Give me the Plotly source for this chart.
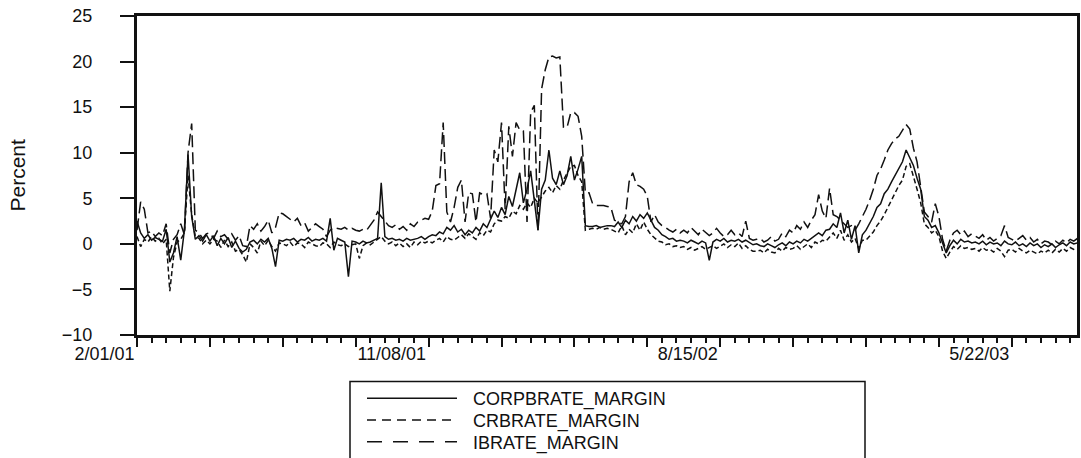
import pandas as pd
import plotly.graph_objects as go

# Twice-weekly observations starting 1 February 2001
start_date = "2001-02-01"
n_obs = 259
obs_dates = pd.date_range(start_date, periods=n_obs, freq="84h")

corpbrate_margin = [
    2.5, 1.2, 0.6, 1.0, 0.4, 0.7, 0.5, 0.3, 1.6, -2.0,
    -1.0, 0.8, -1.8, 1.5, 9.8, 3.0, 0.5, 0.9, 0.3, 1.0,
    0.3, 0.9, -0.2, 0.6, 0.0, 0.7, -0.4, 0.3, -0.5, -0.9,
    -0.6, 0.2, 0.4, 0.0, 0.5, 0.2, 0.6, -0.5, -2.5, 0.4,
    0.3, 0.5, 0.4, 0.6, 0.2, 0.5, 0.4, 0.7, 0.3, 0.5,
    0.4, 0.6, 0.3, 2.8, -0.7, 0.6, 0.4, 0.2, -3.6, 0.3,
    0.2, 0.0, 0.3, 0.1, 0.2, 0.4, 0.6, 6.7, 0.8, 0.5,
    0.6, 0.4, 0.5, 0.3, 0.6, 0.4, 0.5, 0.6, 0.8, 0.5,
    0.8, 1.0, 0.9, 1.3, 1.1, 1.8, 1.5, 2.0, 1.3, 1.6,
    1.0, 1.5, 1.2, 1.8, 1.4, 2.2, 1.8, 2.8, 3.6, 2.9,
    4.0, 3.2, 5.2, 4.1, 5.8, 7.8, 4.5, 6.0, 8.0, 5.0,
    1.5, 6.0, 7.0, 10.3, 7.2, 6.5, 8.0, 6.5, 7.5, 9.6,
    7.0, 8.2, 9.6, 2.0, 1.9, 1.9, 2.0, 1.8, 1.9, 2.0,
    2.0, 1.9, 2.4, 1.8, 2.6, 2.2, 3.0, 2.5, 3.2, 2.8,
    3.4, 2.6, 1.8, 1.5, 1.0, 0.8, 0.5, 0.6, 0.3, 0.4,
    0.3, 0.1, 0.4, 0.2, 0.0, 0.3, 0.1, -1.8, 0.2, 0.5,
    0.3, 0.6, 0.2, 0.4, 0.3, 0.5, 0.2, 0.4, 0.1, -0.1,
    0.0, -0.2, -0.3, 0.0, -0.2, -0.4, -0.1, 0.1, -0.2, 0.2,
    0.0, 0.3, 0.1, 0.5, 0.3, 0.6, 0.8, 1.2, 0.9, 1.5,
    1.6, 2.2, 1.8, 3.4, 1.2, 2.6, 0.5, 2.0, -1.0, 1.0,
    1.5, 2.2, 3.0, 4.0, 4.4, 5.5, 6.0, 6.8, 7.5, 8.2,
    9.0, 10.3, 9.5, 8.6, 7.2, 6.0, 3.0, 2.6, 1.8, 2.0,
    1.2, 0.0, -1.0, -0.2, 0.4, 0.0, 0.5, 0.2, 0.3, 0.1,
    0.2, 0.0, 0.3, -0.1, 0.2, 0.0, 0.1, -0.2, 0.3, 0.0,
    -0.1, 0.2, -0.2, 0.0, -0.3, 0.1, -0.2, 0.0, -0.4, -0.1,
    -0.3, 0.0, -0.4, -0.1, 0.1, -0.2, 0.2, 0.0, 0.1,
]

crbrate_margin = [
    0.8, -0.3, 0.5, 0.2, 0.8, 0.3, 0.6, 0.0, 0.5, -5.2,
    -1.5, 0.2, 0.5, 1.2, 7.5, 3.2, 0.8, 0.6, 0.0, 0.4,
    0.0, 0.5, 0.3, -0.4, 0.4, -0.3, 0.2, -0.8, -0.6, -1.2,
    -2.0, 0.0, -0.4, -1.0, 0.3, -0.2, 0.4, -0.3, -0.8, 0.1,
    0.0, -0.2, 0.2, -0.3, 0.1, 0.0, -0.4, 0.2, 0.0, -0.2,
    -0.3, 0.1, 0.0, -0.4, 0.2, -0.1, -0.2, 0.0, -0.3, -0.1,
    0.0, -1.6, -0.2, 0.1, -0.1, 0.2, 0.4, 0.8, 0.3, 0.0,
    0.2, -0.2, 0.1, -0.3, 0.0, -0.4, 0.2, -0.1, 0.3, 0.1,
    0.3, 0.1, 0.4, 0.6, 0.2, 0.8, 0.5, 0.4, 0.7, 1.0,
    0.6, 1.1, 0.8, 0.5, 1.2, 0.9, 1.5, 1.3, 2.2, 2.6,
    2.5, 3.0, 2.8, 3.6, 3.3, 4.2, 3.8, 4.5, 4.0, 5.0,
    4.5, 5.2, 5.8, 6.2, 5.6, 6.4, 6.0, 7.0, 7.8, 8.5,
    8.6, 7.5, 6.8, 1.5, 1.6, 1.7, 1.6, 1.8, 1.6, 1.7,
    1.6, 1.4, 1.2, 2.0, 1.0, 1.6, 1.2, 2.2, 1.5, 2.4,
    1.6, 1.0, 0.6, 0.3, 0.2, -0.1, 0.0, -0.3, -0.2, -0.4,
    -0.3, -0.6, -0.4, -0.7, -0.5, -0.3, -0.6, -0.4, -0.2, -0.5,
    -0.2, 0.0, -0.4, -0.1, -0.3, 0.1, -0.5, -0.2, -0.6, -0.8,
    -0.8, -0.7, -1.0, -0.6, -0.9, -1.0, -0.5, -0.8, -0.4, -0.6,
    -0.5, -0.2, -0.6, -0.3, 0.0, -0.4, 0.2, 0.0, 0.4, 0.3,
    0.8, 1.2, 0.6, 1.5, 0.4, 1.0, 0.2, 0.6, -0.5, 0.4,
    0.4, 0.8, 1.3, 2.0, 2.5, 3.2, 4.0, 4.8, 5.5, 6.4,
    7.0, 8.5, 8.8, 7.5, 6.0, 4.5, 2.2, 1.8, 1.2, 1.5,
    0.8, -0.8, -1.6, -0.9, -0.3, -0.6, -0.2, -0.5, -0.4, -0.6,
    -0.5, -0.8, -0.4, -0.7, -0.6, -0.9, -0.5, -0.8, -1.4, -0.7,
    -0.6, -0.9, -0.5, -0.8, -1.0, -0.7, -0.9, -1.1, -0.8, -1.0,
    -0.7, -1.0, -0.6, -0.9, -0.5, -0.8, -0.4, -0.6, -0.5,
]

ibrate_margin = [
    1.5, 4.6, 3.8, 1.2, 1.4, 0.8, 1.2, 0.9, 2.2, -1.0,
    0.5, 1.0, 2.2, 1.0, 10.0, 13.2, 1.5, 1.2, 0.6, 1.1,
    1.2, 0.6, 1.4, 0.8, 1.0, 0.5, 1.1, 0.4, 0.9, -0.2,
    -0.3, 2.0, 1.6, 2.2, 1.4, 1.9, 2.6, 1.2, 1.8, 3.4,
    3.3, 3.0, 2.8, 2.4, 2.8, 2.0, 2.3, 1.4, 1.8, 2.2,
    1.9, 1.6, 0.8, 1.5, 1.8, 1.7, 1.6, 1.8, 1.5, 1.7,
    1.5, 1.4, 1.6, 1.5, 2.0, 2.6, 3.5, 3.0, 2.4, 2.0,
    1.8, 2.1, 1.6, 1.9, 1.5, 2.2, 1.9, 2.4, 2.6, 2.8,
    2.7, 3.6, 6.4, 6.6, 13.3, 3.5, 2.4, 4.0, 6.2, 7.0,
    2.4, 5.6, 5.5, 2.4, 5.6, 5.4, 5.5, 2.8, 10.3, 9.0,
    13.3, 3.8, 12.9, 9.6, 13.3, 12.5, 12.4, 2.4, 14.4, 15.2,
    1.5, 17.0, 19.1, 20.5, 20.6, 20.4, 20.5, 12.8, 12.8, 14.4,
    14.4, 14.0, 11.8, 5.6, 5.6, 4.4, 4.2, 4.2, 4.2, 4.1,
    4.0, 2.6, 2.4, 2.2, 3.0, 6.8, 7.8, 6.5, 6.3, 6.0,
    5.2, 2.4, 3.2, 2.4, 2.0, 1.8, 1.5, 1.3, 1.6, 1.2,
    1.5, 1.2, 1.8, 1.4, 1.0, 1.6, 1.3, 0.9, 1.2, 1.7,
    1.2, 0.8, 1.0, 1.5, 1.0, 1.2, 0.8, 2.5, 0.6, 0.4,
    0.5, 0.6, 0.2, 0.4, 0.8, 0.3, 0.5, 1.2, 0.8, 1.5,
    1.2, 2.0, 1.6, 2.4, 1.8, 2.6, 3.2, 5.4, 3.6, 2.8,
    6.1, 3.2, 3.0, 2.6, 2.2, 1.8, 2.0, 1.5, 2.2, 3.0,
    3.8, 4.8, 6.0, 7.5, 8.2, 9.2, 10.3, 11.0, 11.5, 11.8,
    12.4, 13.1, 12.6, 10.5, 9.0, 6.5, 3.5, 3.0, 2.4, 4.4,
    3.0, 0.5, -0.8, 0.4, 1.2, 1.5, 1.0, 1.4, 0.8, 1.1,
    0.8, 0.6, 1.0, 0.4, 0.7, 0.3, 0.6, 0.9, 2.0, 0.7,
    0.5, 0.3, 0.6, 0.9, 0.4, 0.7, 0.2, 0.5, 0.0, 0.3,
    0.2, -0.1, 0.3, 0.0, 0.4, 0.1, 0.5, 0.3, 0.6,
]

series_names = ["CORPBRATE_MARGIN", "CRBRATE_MARGIN", "IBRATE_MARGIN"]

# Axis ticks: a major tick every 10 weeks, labelled every 40 weeks
major_tick_dates = pd.date_range(start_date, periods=13, freq="70D")
major_tick_text = ["2/01/01", "", "", "", "11/08/01", "", "", "",
                   "8/15/02", "", "", "", "5/22/03"]
x_end = "2003-07-23 14:00"
y_ticks = [-10, -5, 0, 5, 10, 15, 20, 25]

FONT = "Liberation Sans, Arial, sans-serif"
INK = "#111111"

# plot area in pixels (fixed margins)
W, H = 1081, 458
L, R, T, B = 137, 4, 16, 123
PW, PH = W - L - R, H - T - B


def px_x(px):
    return (px - L) / PW


def px_y(py):
    return (H - B - py) / PH


line_dash = {"CORPBRATE_MARGIN": "solid",
             "CRBRATE_MARGIN": "5px,3px",
             "IBRATE_MARGIN": "12px,5px"}
key_dash = {"CORPBRATE_MARGIN": "solid",
            "CRBRATE_MARGIN": "9px,6px",
            "IBRATE_MARGIN": "15px,11px"}
series_values = {"CORPBRATE_MARGIN": corpbrate_margin,
                 "CRBRATE_MARGIN": crbrate_margin,
                 "IBRATE_MARGIN": ibrate_margin}

fig = go.Figure()
# dashed series underneath, solid series on top
for name in reversed(series_names):
    fig.add_trace(go.Scatter(
        x=obs_dates, y=series_values[name], mode="lines", name=name,
        line=dict(color=INK, width=1.5, dash=line_dash[name]),
        showlegend=False,
    ))

# key box below the chart with a line sample and a label per series
shapes = [dict(
    type="rect", xref="paper", yref="paper",
    x0=px_x(350), x1=px_x(865), y0=px_y(381.5), y1=px_y(520),
    line=dict(color=INK, width=1.5), fillcolor="rgba(0,0,0,0)",
)]
annotations = [dict(
    text="Percent", textangle=-90, xref="paper", yref="paper",
    x=px_x(17), y=0.5, xanchor="center", yanchor="middle",
    showarrow=False, font=dict(size=21, color=INK),
)]
for k, name in enumerate(series_names):
    row_y = 398.3 + 21.7 * k
    shapes.append(dict(
        type="line", xref="paper", yref="paper",
        x0=px_x(367), x1=px_x(457), y0=px_y(row_y), y1=px_y(row_y),
        line=dict(color=INK, width=1.5, dash=key_dash[name]),
    ))
    annotations.append(dict(
        text=name, xref="paper", yref="paper",
        x=px_x(471), y=px_y(row_y + 1.5), xanchor="left", yanchor="middle",
        showarrow=False, font=dict(size=18, color=INK),
    ))

fig.update_layout(
    width=W, height=H,
    margin=dict(l=L, r=R, t=T, b=B, autoexpand=False),
    paper_bgcolor="white", plot_bgcolor="white",
    font=dict(family=FONT, size=18, color=INK),
    showlegend=False,
    xaxis=dict(
        type="date", range=[start_date, x_end], automargin=False,
        showgrid=False, zeroline=False,
        showline=True, linecolor=INK, linewidth=3, mirror=True,
        tickmode="array", tickvals=major_tick_dates, ticktext=major_tick_text,
        ticks="outside", ticklen=9, tickwidth=2, tickcolor=INK,
        ticklabelposition="outside left",
        tickfont=dict(size=18),
        minor=dict(ticks="outside", ticklen=5, tickwidth=1.5, tickcolor=INK,
                   tick0=start_date, dtick=14 * 86400000, showgrid=False),
    ),
    yaxis=dict(
        range=[-10, 25], tickmode="array", tickvals=y_ticks, automargin=False,
        showgrid=False, zeroline=False,
        showline=True, linecolor=INK, linewidth=3, mirror=True,
        ticks="outside", ticklen=14, tickwidth=2, tickcolor=INK,
        tickfont=dict(size=18), ticklabelstandoff=24,
    ),
    shapes=shapes,
    annotations=annotations,
)

fig.write_html("out.html")
